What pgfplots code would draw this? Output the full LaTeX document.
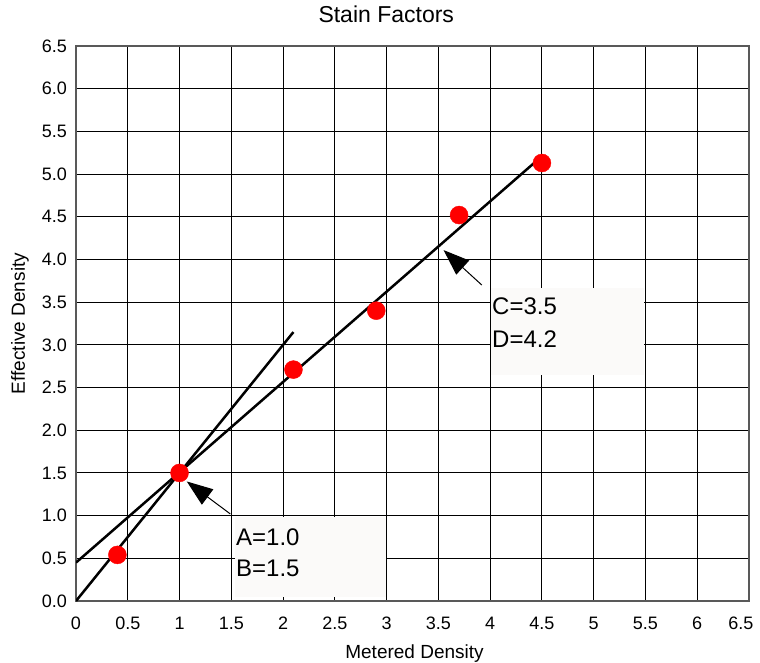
\documentclass[border=0pt]{standalone}
\usepackage{pgfplots}
\pgfplotsset{compat=1.18}
\usepackage{fontspec}
\setmainfont{Liberation Sans}
\usetikzlibrary{arrows.meta}
\definecolor{boxfill}{HTML}{FBFAF9}
\begin{document}
\begin{tikzpicture}
\useasboundingbox (-76pt,-61pt) rectangle (684pt,601pt);
\begin{axis}[
  scale only axis,
  width=673pt, height=555pt,
  xmin=0, xmax=6.5, ymin=0, ymax=6.5,
  xtick={0,0.5,...,6.5}, ytick={0,0.5,...,6.5},
  xticklabels={0,0.5,1,1.5,2,2.5,3,3.5,4,4.5,5,5.5,6,\hspace*{-16pt}6.5},
  yticklabels={0.0,0.5,1.0,1.5,2.0,2.5,3.0,3.5,4.0,4.5,5.0,5.5,6.0,6.5},
  major tick length=0pt,
  grid=major,
  major grid style={black, line width=0.9pt},
  axis line style={black!65, line width=1.2pt},
  tick label style={font=\fontsize{18}{21}\selectfont},
  xticklabel style={anchor=north, inner sep=0pt, yshift=-16pt},
  yticklabel style={anchor=east, inner sep=0pt, xshift=-9pt},
  title={Stain Factors},
  title style={at={(0.461,1.047)}, anchor=center, font=\fontsize{23}{27}\selectfont},
  xlabel={Metered Density},
  xlabel style={at={(0.503,-0.1027)}, anchor=base, font=\fontsize{19}{23}\selectfont},
  ylabel={Effective Density},
  ylabel style={at={(-0.0758,0.5)}, anchor=base, rotate=0, font=\fontsize{19}{23}\selectfont},
]
% annotation boxes
\fill[boxfill] (axis cs:1.533,0.047) rectangle (axis cs:2.995,0.984);
\fill[boxfill] (axis cs:4.006,2.646) rectangle (axis cs:5.483,3.66);
\node[anchor=west, inner sep=0pt, font=\fontsize{24}{28}\selectfont] at (axis cs:1.545,0.749) {A=1.0};
\node[anchor=west, inner sep=0pt, font=\fontsize{24}{28}\selectfont] at (axis cs:1.545,0.386) {B=1.5};
\node[anchor=west, inner sep=0pt, font=\fontsize{24}{28}\selectfont] at (axis cs:4.018,3.458) {C=3.5};
\node[anchor=west, inner sep=0pt, font=\fontsize{24}{28}\selectfont] at (axis cs:4.018,3.068) {D=4.2};
% data points
\addplot[red, only marks, mark=*, mark size=9pt, mark options={fill=red, draw=none}] coordinates {
 (0.4,0.54) (1.0,1.50) (2.1,2.71) (2.9,3.40) (3.7,4.52) (4.5,5.13)
};
% fitted lines
\addplot[black, line width=2.5pt] coordinates {(0,0) (2.1,3.15)};
\addplot[black, line width=2.5pt] coordinates {(0,0.45) (4.51,5.22)};
% arrows
\draw[line width=1pt, -{Triangle[length=26pt,width=19pt]}] (axis cs:1.49,1.02) -- (axis cs:1.07,1.40);
\draw[line width=1pt, -{Triangle[length=26pt,width=19pt]}] (axis cs:3.92,3.70) -- (axis cs:3.55,4.11);
\end{axis}
\end{tikzpicture}
\end{document}
